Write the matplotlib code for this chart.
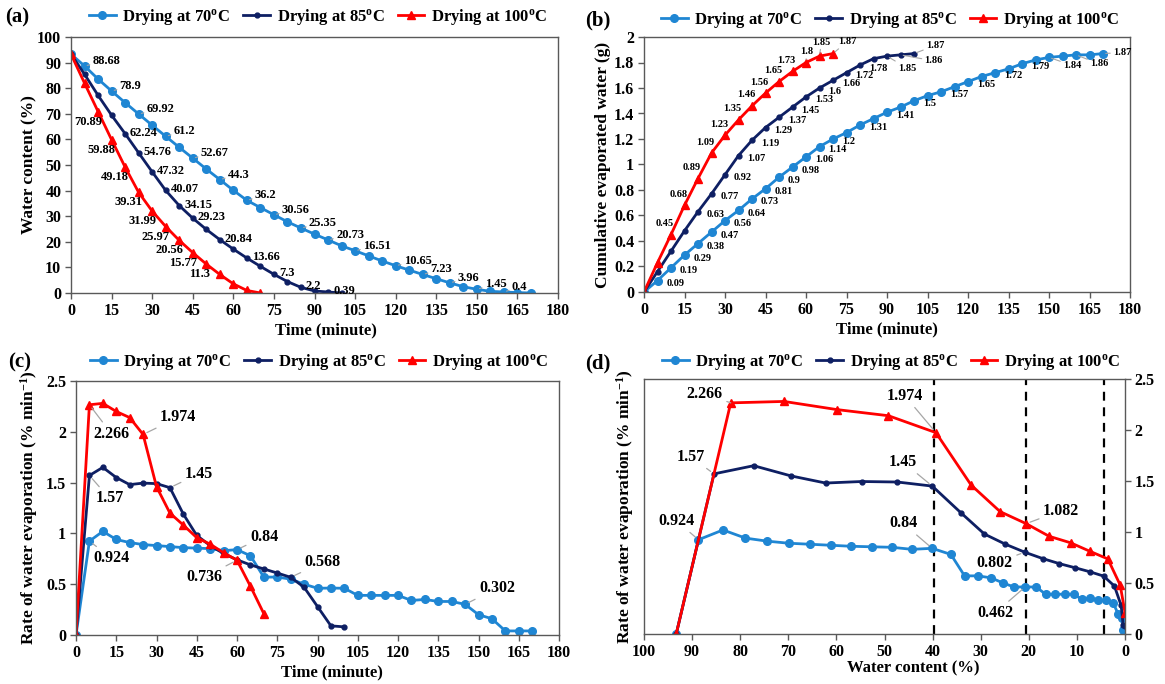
import numpy as np
import matplotlib
matplotlib.use('Agg')
import matplotlib.pyplot as plt
from matplotlib.ticker import MultipleLocator, FuncFormatter

plt.rcParams['font.family'] = ['Liberation Serif', 'DejaVu Serif']
plt.rcParams['font.weight'] = 'bold'
plt.rcParams['axes.labelweight'] = 'bold'
plt.rcParams['mathtext.fontset'] = 'custom'
plt.rcParams['mathtext.rm'] = 'Liberation Serif:bold'
plt.rcParams['mathtext.it'] = 'Liberation Serif:bold'
plt.rcParams['mathtext.bf'] = 'Liberation Serif:bold'

# tiempos (minutos)
t70 = list(range(0, 175, 5))
t85 = list(range(0, 105, 5))
t100 = list(range(0, 75, 5))

# (a) contenido de agua (%)
wc70 = [93.3, 88.68, 83.58, 78.9, 74.35, 69.92, 65.52, 61.2, 56.9, 52.67, 48.42, 44.3,
        40.1, 36.2, 33.35, 30.56, 27.81, 25.35, 23.0, 20.73, 18.43, 16.51, 14.51, 12.51,
        10.65, 8.95, 7.23, 5.58, 3.96, 2.45, 1.45, 0.65, 0.4, 0.15, 0.0]
wc85 = [93.3, 85.45, 77.2, 69.45, 62.24, 54.76, 47.32, 40.07, 34.15, 29.23, 24.85, 20.84,
        17.14, 13.66, 10.41, 7.3, 4.46, 2.2, 0.8, 0.39, 0.0]
wc100 = [93.3, 81.97, 70.89, 59.88, 49.18, 39.31, 31.99, 25.97, 20.56, 15.77, 11.3, 7.25,
         3.57, 1.0, 0.0]

# (b) agua evaporada acumulada (g)
cum70 = [0, 0.09, 0.19, 0.29, 0.38, 0.47, 0.56, 0.64, 0.73, 0.81, 0.9, 0.98, 1.06, 1.14,
         1.2, 1.25, 1.31, 1.36, 1.41, 1.45, 1.5, 1.54, 1.57, 1.61, 1.65, 1.69, 1.72, 1.75,
         1.79, 1.82, 1.84, 1.85, 1.86, 1.86, 1.87]
cum85 = [0, 0.16, 0.32, 0.48, 0.63, 0.77, 0.92, 1.07, 1.19, 1.29, 1.37, 1.45, 1.53, 1.6,
         1.66, 1.72, 1.78, 1.83, 1.85, 1.86, 1.87]
cum100 = [0, 0.23, 0.45, 0.68, 0.89, 1.09, 1.23, 1.35, 1.46, 1.56, 1.65, 1.73, 1.8, 1.85, 1.87]

# (c) velocidad de evaporacion (% min-1)
rate70 = [0, 0.924, 1.02, 0.94, 0.91, 0.89, 0.88, 0.87, 0.86, 0.855, 0.85, 0.83, 0.84,
          0.78, 0.57, 0.57, 0.55, 0.5, 0.46, 0.462, 0.46, 0.39, 0.39, 0.39, 0.39, 0.34,
          0.35, 0.33, 0.33, 0.302, 0.2, 0.16, 0.04, 0.04, 0.04]
rate85 = [0, 1.57, 1.65, 1.55, 1.48, 1.495, 1.49, 1.45, 1.19, 0.98, 0.88, 0.802, 0.74,
          0.69, 0.65, 0.61, 0.568, 0.47, 0.28, 0.09, 0.08]
rate100 = [0, 2.266, 2.28, 2.2, 2.14, 1.974, 1.46, 1.2, 1.082, 0.958, 0.894, 0.81, 0.736,
           0.48, 0.21]

# lineas verticales del panel (d)
lineas_d = [39.7, 20.5, 4.3]

# tiempos con etiqueta
lab_a70 = [5, 15, 25, 35, 45, 55, 65, 75, 85, 95, 105, 120, 130, 140, 150, 160]
lab_a85 = [20, 25, 30, 35, 40, 45, 55, 65, 75, 85, 95]
lab_a100 = [10, 15, 20, 25, 30, 35, 40, 45, 50]
lab_b70 = [5, 10, 15, 20, 25, 30, 35, 40, 45, 50, 55, 60, 65, 70, 80, 90, 100, 110, 120,
           130, 140, 150, 160, 170]
lab_b85 = [20, 25, 30, 35, 40, 45, 50, 55, 60, 65, 70, 75, 80, 90, 95, 100]
lab_b100 = [10, 15, 20, 25, 30, 35, 40, 45, 50, 55, 60, 65, 70]

c70 = '#1f86d3'
c85 = '#0e1f63'
c100 = '#ff0000'
gris = '#595959'
series = ['Drying at 70$^{\\mathrm{o}}$C', 'Drying at 85$^{\\mathrm{o}}$C',
          'Drying at 100$^{\\mathrm{o}}$C']

fig = plt.figure(figsize=(11.65, 6.84), dpi=100)
W, H = 1165.0, 684.0


def caja(l, t, r, b):
    return fig.add_axes([l / W, 1 - b / H, (r - l) / W, (b - t) / H])


ax_a = caja(71, 37, 558, 293)
ax_b = caja(644, 37, 1130, 292)
ax_c = caja(76, 381, 559, 635)
ax_d = caja(644, 379, 1125, 634)


def trazar(ax, x70, y70, x85, y85, x100, y100):
    ax.plot(x70, y70, color=c70, lw=2, marker='o', ms=5.5, label=series[0])
    ax.plot(x85, y85, color=c85, lw=2, marker='o', ms=3.5, label=series[1])
    ax.plot(x100, y100, color=c100, lw=2, marker='^', ms=5.5, label=series[2])


def etiquetas(ax, xs, ys, tiempos, dx, dy, ha, size, leader=False, especiales=None):
    especiales = especiales or {}
    for t in tiempos:
        i = t // 5
        ox, oy, al, lid = dx, dy, ha, leader
        if t in especiales:
            ox, oy, al = especiales[t]
            lid = True
        kw = {}
        if lid:
            kw['arrowprops'] = dict(arrowstyle='-', color='#a6a6a6', lw=0.8,
                                    shrinkA=0, shrinkB=2)
        ax.annotate('{:g}'.format(ys[i]), (xs[i], ys[i]), xytext=(ox, oy),
                    textcoords='offset pixels', ha=al, va='center', fontsize=size,
                    fontweight='bold', **kw)


def callout(ax, x, y, dx, dy, ha, txt):
    ax.annotate(txt, (x, y), xytext=(dx, dy), textcoords='offset pixels', ha=ha,
                va='center', fontsize=11.5, fontweight='bold',
                arrowprops=dict(arrowstyle='-', color='#a6a6a6', lw=0.9,
                                shrinkA=1, shrinkB=3))


def estilo(ax):
    for s in ax.spines.values():
        s.set_color(gris)
        s.set_linewidth(1)
    ax.tick_params(direction='out', length=4, width=1, color=gris, labelsize=11.5, pad=3)


def leyenda(ax, cx, cy):
    ax.legend(loc='center', bbox_to_anchor=(cx / W, 1 - cy / H), bbox_transform=fig.transFigure,
              ncol=3, frameon=False, fontsize=12, handlelength=1.6, handletextpad=0.4,
              columnspacing=0.8, borderaxespad=0)


fmt = FuncFormatter(lambda v, p: '{:g}'.format(round(v, 2)))

# (a)
trazar(ax_a, t70, wc70, t85, wc85, t100, wc100)
etiquetas(ax_a, t70, wc70, lab_a70, 8, 5, 'left', 9, leader=True)
etiquetas(ax_a, t85, wc85, lab_a85, 5, 1, 'left', 9)
etiquetas(ax_a, t100, wc100, lab_a100, 4, -10, 'right', 9)
ax_a.set_xlim(0, 180)
ax_a.set_ylim(0, 100)
ax_a.xaxis.set_major_locator(MultipleLocator(15))
ax_a.yaxis.set_major_locator(MultipleLocator(10))
ax_a.set_xlabel('Time (minute)', fontsize=12)
ax_a.set_ylabel('Water content (%)', fontsize=12.5)
ax_a.xaxis.set_label_coords(0.524, -0.115)
ax_a.yaxis.set_label_coords(-0.07, 0.5)

# (b)
trazar(ax_b, t70, cum70, t85, cum85, t100, cum100)
etiquetas(ax_b, t70, cum70, lab_b70, 9, -3, 'left', 7.5,
          especiales={150: (14, -8, 'left'), 160: (14, -9, 'left'), 170: (10, 1, 'left')})
etiquetas(ax_b, t85, cum85, lab_b85, 9, -3, 'left', 7.5,
          especiales={90: (11, -12, 'left'), 95: (24, -6, 'left'), 100: (12, 8, 'left')})
etiquetas(ax_b, t100, cum100, lab_b100, 3, 11, 'right', 7.5,
          especiales={60: (7, 11, 'right'), 65: (11, 14, 'right'), 70: (5, 12, 'left')})
ax_b.set_xlim(0, 180)
ax_b.set_ylim(0, 2)
ax_b.xaxis.set_major_locator(MultipleLocator(15))
ax_b.yaxis.set_major_locator(MultipleLocator(0.2))
ax_b.yaxis.set_major_formatter(fmt)
ax_b.set_xlabel('Time (minute)', fontsize=12)
ax_b.set_ylabel('Cumulative evaporated water (g)', fontsize=12.5)
ax_b.xaxis.set_label_coords(0.5, -0.115)
ax_b.yaxis.set_label_coords(-0.068, 0.5)

# (c)
trazar(ax_c, t70, rate70, t85, rate85, t100, rate100)
callout(ax_c, 5, rate100[1], 4, -29, 'left', '2.266')
callout(ax_c, 5, rate85[1], 6, -23, 'left', '1.57')
callout(ax_c, 5, rate70[1], 4, -17, 'left', '0.924')
callout(ax_c, 25, rate100[5], 17, 17, 'left', '1.974')
callout(ax_c, 35, rate85[7], 15, 14, 'left', '1.45')
callout(ax_c, 60, rate70[12], 13, 13, 'left', '0.84')
callout(ax_c, 60, rate100[12], -15, -17, 'right', '0.736')
callout(ax_c, 80, rate85[16], 14, 15, 'left', '0.568')
callout(ax_c, 145, rate70[29], 14, 16, 'left', '0.302')
ax_c.set_xlim(0, 180)
ax_c.set_ylim(0, 2.5)
ax_c.xaxis.set_major_locator(MultipleLocator(15))
ax_c.yaxis.set_major_locator(MultipleLocator(0.5))
ax_c.yaxis.set_major_formatter(fmt)
ax_c.set_xlabel('Time (minute)', fontsize=12)
ax_c.set_ylabel('Rate of water evaporation (% min$^{-1}$)', fontsize=12.5)
ax_c.xaxis.set_label_coords(0.53, -0.115)
ax_c.yaxis.set_label_coords(-0.075, 0.5)

# (d)
trazar(ax_d, wc70, rate70, wc85, rate85, wc100, rate100)
for xv in lineas_d:
    ax_d.axvline(xv, color='black', lw=1.6, ls=(0, (4, 3)), zorder=1)
callout(ax_d, wc100[1], rate100[1], -8, 9, 'right', '2.266')
callout(ax_d, wc85[1], rate85[1], -9, 17, 'right', '1.57')
callout(ax_d, wc70[1], rate70[1], -4, 19, 'right', '0.924')
callout(ax_d, wc100[5], rate100[5], -13, 37, 'right', '1.974')
callout(ax_d, wc85[7], rate85[7], -15, 24, 'right', '1.45')
callout(ax_d, wc70[12], rate70[12], -15, 25, 'right', '0.84')
callout(ax_d, wc100[8], rate100[8], 17, 13, 'left', '1.082')
callout(ax_d, wc85[11], rate85[11], -12, -11, 'right', '0.802')
callout(ax_d, wc70[19], rate70[19], -12, -26, 'right', '0.462')
ax_d.set_xlim(100, 0)
ax_d.set_ylim(0, 2.5)
ax_d.xaxis.set_major_locator(MultipleLocator(10))
ax_d.yaxis.set_major_locator(MultipleLocator(0.5))
ax_d.yaxis.set_major_formatter(fmt)
ax_d.yaxis.tick_right()
ax_d.yaxis.set_label_position('left')
ax_d.set_xlabel('Water content (%)', fontsize=12)
ax_d.set_ylabel('Rate of water evaporation (% min$^{-1}$)', fontsize=12.5)
ax_d.xaxis.set_label_coords(0.56, -0.105)
ax_d.yaxis.set_label_coords(-0.017, 0.5)

for ax in (ax_a, ax_b, ax_c, ax_d):
    estilo(ax)

leyenda(ax_a, 318, 17)
leyenda(ax_b, 890, 20)
leyenda(ax_c, 319, 362)
leyenda(ax_d, 891, 362)

fig.text(5 / W, 1 - 17 / H, '(a)', fontsize=15, va='center', ha='left')
fig.text(585 / W, 1 - 20 / H, '(b)', fontsize=15, va='center', ha='left')
fig.text(8 / W, 1 - 362 / H, '(c)', fontsize=15, va='center', ha='left')
fig.text(585 / W, 1 - 363 / H, '(d)', fontsize=15, va='center', ha='left')

fig.savefig('out.png', dpi=100)
